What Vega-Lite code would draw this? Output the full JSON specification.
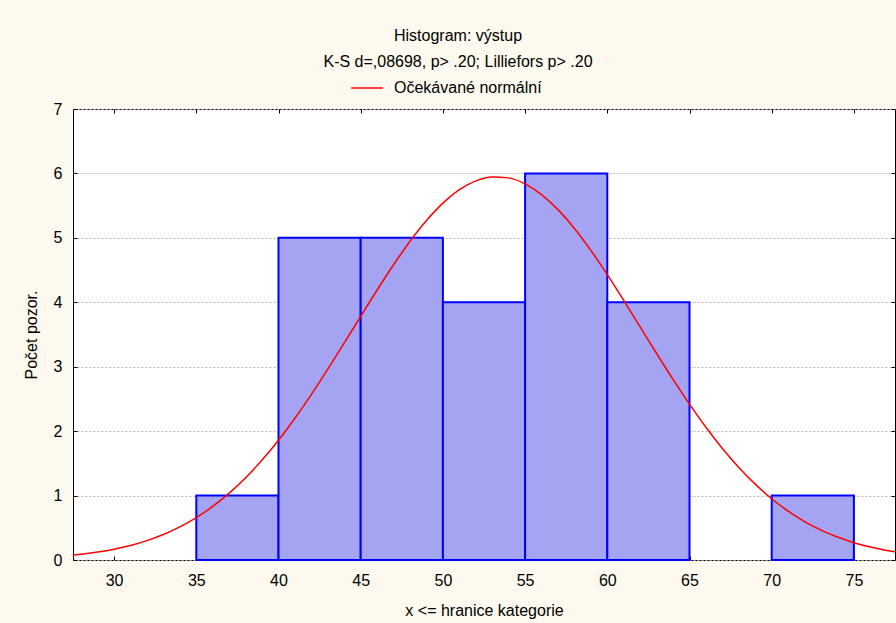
{
  "$schema": "https://vega.github.io/schema/vega-lite/v6.json",
  "width": 822,
  "height": 451,
  "autosize": {"type": "none"},
  "padding": {"left": 73, "top": 109, "right": 1, "bottom": 63},
  "background": "#FDF9EE",
  "config": {
    "font": "Liberation Sans",
    "view": {"fill": "#FFFFFF", "stroke": "#000000", "strokeWidth": 1},
    "axis": {"labelFont": "Liberation Sans", "titleFont": "Liberation Sans", "labelColor": "#000000", "titleColor": "#000000", "labelFontSize": 16, "titleFontSize": 16, "titleFontWeight": "normal", "tickColor": "#000000", "domain": false}
  },
  "title": {
    "text": ["Histogram: výstup", "K-S d=,08698, p> .20; Lilliefors p> .20"],
    "fontSize": 16,
    "fontWeight": "normal",
    "font": "Liberation Sans",
    "color": "#000000",
    "lineHeight": 26,
    "anchor": "middle",
    "dx": -26,
    "offset": 1
  },
  "datasets": {
    "bins": [
      {"start": 35, "end": 40, "count": 1},
      {"start": 40, "end": 45, "count": 5},
      {"start": 45, "end": 50, "count": 5},
      {"start": 50, "end": 55, "count": 4},
      {"start": 55, "end": 60, "count": 6},
      {"start": 60, "end": 65, "count": 4},
      {"start": 70, "end": 75, "count": 1}
    ],
    "curve": [
      {"x": 27.5, "y": 0.075, "series": "Očekávané normální"},
      {"x": 28, "y": 0.088, "series": "Očekávané normální"},
      {"x": 29, "y": 0.123, "series": "Očekávané normální"},
      {"x": 30, "y": 0.168, "series": "Očekávané normální"},
      {"x": 31, "y": 0.226, "series": "Očekávané normální"},
      {"x": 32, "y": 0.301, "series": "Očekávané normální"},
      {"x": 33, "y": 0.396, "series": "Očekávané normální"},
      {"x": 34, "y": 0.514, "series": "Očekávané normální"},
      {"x": 35, "y": 0.658, "series": "Očekávané normální"},
      {"x": 36, "y": 0.831, "series": "Očekávané normální"},
      {"x": 37, "y": 1.037, "series": "Očekávané normální"},
      {"x": 38, "y": 1.277, "series": "Očekávané normální"},
      {"x": 39, "y": 1.551, "series": "Očekávané normální"},
      {"x": 40, "y": 1.859, "series": "Očekávané normální"},
      {"x": 41, "y": 2.2, "series": "Očekávané normální"},
      {"x": 42, "y": 2.57, "series": "Očekávané normální"},
      {"x": 43, "y": 2.962, "series": "Očekávané normální"},
      {"x": 44, "y": 3.369, "series": "Očekávané normální"},
      {"x": 45, "y": 3.782, "series": "Očekávané normální"},
      {"x": 46, "y": 4.191, "series": "Očekávané normální"},
      {"x": 47, "y": 4.583, "series": "Očekávané normální"},
      {"x": 48, "y": 4.947, "series": "Očekávané normální"},
      {"x": 49, "y": 5.269, "series": "Očekávané normální"},
      {"x": 50, "y": 5.539, "series": "Očekávané normální"},
      {"x": 51, "y": 5.747, "series": "Očekávané normální"},
      {"x": 52, "y": 5.885, "series": "Očekávané normální"},
      {"x": 53, "y": 5.946, "series": "Očekávané normální"},
      {"x": 54, "y": 5.931, "series": "Očekávané normální"},
      {"x": 55, "y": 5.838, "series": "Očekávané normální"},
      {"x": 56, "y": 5.671, "series": "Očekávané normální"},
      {"x": 57, "y": 5.438, "series": "Očekávané normální"},
      {"x": 58, "y": 5.146, "series": "Očekávané normální"},
      {"x": 59, "y": 4.806, "series": "Očekávané normální"},
      {"x": 60, "y": 4.429, "series": "Očekávané normální"},
      {"x": 61, "y": 4.029, "series": "Očekávané normální"},
      {"x": 62, "y": 3.617, "series": "Očekávané normální"},
      {"x": 63, "y": 3.205, "series": "Očekávané normální"},
      {"x": 64, "y": 2.803, "series": "Očekávané normální"},
      {"x": 65, "y": 2.419, "series": "Očekávané normální"},
      {"x": 66, "y": 2.06, "series": "Očekávané normální"},
      {"x": 67, "y": 1.732, "series": "Očekávané normální"},
      {"x": 68, "y": 1.437, "series": "Očekávané normální"},
      {"x": 69, "y": 1.177, "series": "Očekávané normální"},
      {"x": 70, "y": 0.951, "series": "Očekávané normální"},
      {"x": 71, "y": 0.758, "series": "Očekávané normální"},
      {"x": 72, "y": 0.597, "series": "Očekávané normální"},
      {"x": 73, "y": 0.464, "series": "Očekávané normální"},
      {"x": 74, "y": 0.356, "series": "Očekávané normální"},
      {"x": 75, "y": 0.269, "series": "Očekávané normální"},
      {"x": 76, "y": 0.201, "series": "Očekávané normální"},
      {"x": 77, "y": 0.148, "series": "Očekávané normální"},
      {"x": 77.5, "y": 0.127, "series": "Očekávané normální"}
    ]
  },
  "layer": [
    {
      "data": {"name": "bins"},
      "mark": {"type": "rect", "fill": "#A4A4F3", "stroke": "#0000FF", "strokeWidth": 2},
      "encoding": {
        "x": {
          "field": "start", "type": "quantitative",
          "scale": {"domain": [27.5, 77.5], "nice": false, "zero": false},
          "axis": {"orient": "bottom", "values": [30, 35, 40, 45, 50, 55, 60, 65, 70, 75], "grid": false, "tickSize": -4, "labelPadding": 16, "title": "x <= hranice kategorie", "titlePadding": 14}
        },
        "x2": {"field": "end"},
        "y": {
          "field": "count", "type": "quantitative",
          "scale": {"domain": [0, 7], "nice": false},
          "axis": {"orient": "left", "values": [0, 1, 2, 3, 4, 5, 6, 7], "grid": true, "gridColor": "#B8B8B8", "gridDash": [2, 2], "gridWidth": 1, "tickSize": -4, "labelPadding": 15, "title": "Počet pozor.", "titlePadding": 14}
        },
        "y2": {"datum": 0}
      }
    },
    {
      "data": {"name": "curve"},
      "mark": {"type": "line", "strokeWidth": 1.5, "interpolate": "monotone"},
      "encoding": {
        "x": {
          "field": "x", "type": "quantitative",
          "axis": {"orient": "top", "values": [30, 35, 40, 45, 50, 55, 60, 65, 70, 75], "grid": false, "labels": false, "tickSize": -4, "title": null}
        },
        "y": {
          "field": "y", "type": "quantitative",
          "axis": {"orient": "right", "values": [0, 1, 2, 3, 4, 5, 6, 7], "grid": false, "labels": false, "tickSize": -4, "title": null}
        },
        "color": {
          "field": "series", "type": "nominal",
          "scale": {"range": ["#FF0000"]},
          "legend": {"orient": "none", "legendX": 277, "legendY": -38, "title": null, "symbolType": "stroke", "symbolSize": 1000, "symbolStrokeWidth": 1.5, "labelFontSize": 16, "labelFont": "Liberation Sans", "labelColor": "#000000", "labelOffset": 10}
        }
      }
    }
  ],
  "resolve": {"axis": {"x": "independent", "y": "independent"}}
}
